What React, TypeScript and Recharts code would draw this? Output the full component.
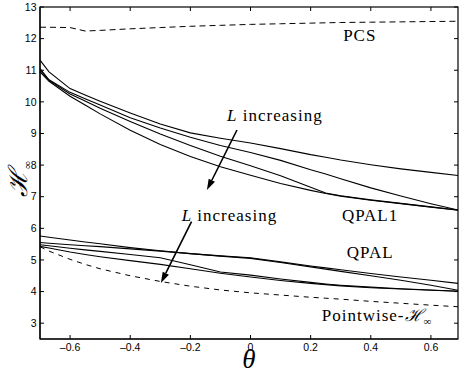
import React from 'react';
import {
  LineChart,
  Line,
  XAxis,
  YAxis,
  ReferenceLine,
  ReferenceDot,
  ReferenceArea,
} from 'recharts';

const theta = [-0.7, -0.67, -0.6, -0.55, -0.5, -0.4, -0.3, -0.2, -0.1, 0, 0.1, 0.2, 0.25, 0.3, 0.4, 0.5, 0.6, 0.69];

const pcs = [12.36, 12.36, 12.35, 12.24, 12.26, 12.31, 12.35, 12.39, 12.42, 12.45, 12.47, 12.49, 12.5, 12.51, 12.52, 12.53, 12.54, 12.55];
const pointwise = [5.42, 5.28, 5.02, 4.86, 4.72, 4.5, 4.32, 4.17, 4.05, 3.96, 3.89, 3.82, 3.79, 3.76, 3.69, 3.63, 3.57, 3.52];

// QPAL1, L increasing from top to bottom
const qpal1A = [11.32, 10.95, 10.42, 10.22, 10.02, 9.65, 9.3, 9.02, 8.85, 8.7, 8.52, 8.33, 8.25, 8.16, 8.01, 7.88, 7.77, 7.67];
const qpal1B = [11.05, 10.7, 10.3, 10.1, 9.9, 9.5, 9.17, 8.88, 8.62, 8.4, 8.15, 7.85, 7.72, 7.57, 7.28, 7.02, 6.78, 6.58];
const qpal1C = [11.0, 10.68, 10.25, 10.03, 9.8, 9.38, 8.98, 8.62, 8.28, 7.98, 7.66, 7.3, 7.12, 7.03, 6.9, 6.79, 6.68, 6.58];
const qpal1D = [10.95, 10.65, 10.18, 9.9, 9.62, 9.1, 8.65, 8.27, 7.95, 7.68, 7.42, 7.2, 7.1, 7.02, 6.89, 6.78, 6.67, 6.57];

// QPAL
const qpalE = [5.76, 5.72, 5.63, 5.57, 5.51, 5.39, 5.29, 5.2, 5.13, 5.07, 4.94, 4.81, 4.75, 4.69, 4.57, 4.46, 4.36, 4.26];
const qpalF = [5.55, 5.53, 5.48, 5.45, 5.42, 5.35, 5.28, 5.2, 5.12, 5.05, 4.92, 4.78, 4.71, 4.64, 4.5, 4.36, 4.2, 4.04];
const qpalG = [5.48, 5.45, 5.37, 5.32, 5.27, 5.17, 5.07, 4.85, 4.62, 4.52, 4.4, 4.29, 4.24, 4.2, 4.14, 4.09, 4.05, 4.01];
const qpalH = [5.43, 5.38, 5.25, 5.17, 5.1, 4.98, 4.86, 4.72, 4.58, 4.46, 4.35, 4.26, 4.22, 4.18, 4.12, 4.08, 4.04, 4.01];

const xTicks = [-0.6, -0.4, -0.2, 0, 0.2, 0.4, 0.6];
const yTicks = [3, 4, 5, 6, 7, 8, 9, 10, 11, 12, 13];

const X_MIN = -0.7;
const X_MAX = 0.69;
const Y_MIN = 2.5;
const Y_MAX = 13;

const solidKeys = ['qpal1A', 'qpal1B', 'qpal1C', 'qpal1D', 'qpalE', 'qpalF', 'qpalG', 'qpalH'];

const rows = theta.map((t, i) => ({
  theta: t,
  pcs: pcs[i],
  pointwise: pointwise[i],
  qpal1A: qpal1A[i],
  qpal1B: qpal1B[i],
  qpal1C: qpal1C[i],
  qpal1D: qpal1D[i],
  qpalE: qpalE[i],
  qpalF: qpalF[i],
  qpalG: qpalG[i],
  qpalH: qpalH[i],
}));

const serif = '"Liberation Serif", "Times New Roman", serif';
const tickFont = { fill: '#000', fontSize: 10.5, fontFamily: '"Liberation Sans", Arial, sans-serif' };
const frame = { stroke: '#000', strokeWidth: 1.2 };

const fmtX = (v: number) => (v === 0 ? '0' : v < 0 ? '\u2013' + Math.abs(v).toFixed(1) : v.toFixed(1));

function Arrow(props: any) {
  const { x1, y1, x2, y2 } = props;
  const ang = Math.atan2(y2 - y1, x2 - x1);
  const len = 11;
  const w = 3.5;
  const bx = x2 - len * Math.cos(ang);
  const by = y2 - len * Math.sin(ang);
  const px = -Math.sin(ang) * w;
  const py = Math.cos(ang) * w;
  return (
    <g>
      <line x1={x1} y1={y1} x2={bx} y2={by} stroke="#000" strokeWidth={1.6} />
      <polygon points={`${x2},${y2} ${bx + px},${by + py} ${bx - px},${by - py}`} fill="#000" />
    </g>
  );
}

function Box(props: any) {
  const { x, y, width, height } = props;
  return <rect x={x} y={y} width={width} height={height} fill="none" stroke="#000" strokeWidth={1.2} />;
}

// inward tick mark on the top / right frame, drawn from the frame point
function TopTick(props: any) {
  const { x1, y1 } = props;
  return <line x1={x1} y1={y1} x2={x1} y2={y1 + 4} stroke="#000" strokeWidth={1} />;
}
function RightTick(props: any) {
  const { x1, y1 } = props;
  return <line x1={x1} y1={y1} x2={x1 - 4} y2={y1} stroke="#000" strokeWidth={1} />;
}

function Note(text: React.ReactNode) {
  return (props: any) => (
    <text x={props.cx} y={props.cy} fontFamily={serif} fontSize={17} letterSpacing={1} fill="#000">
      {text}
    </text>
  );
}

const italicL = (
  <>
    <tspan fontStyle="italic">L</tspan> increasing
  </>
);

const hInf = (
  <>
    <tspan fontFamily='"DejaVu Serif", serif' fontStyle="italic">ℋ</tspan>
    <tspan fontSize={11} dy={4}>∞</tspan>
  </>
);

export default function App() {
  return (
    <div style={{ position: 'absolute', left: 0, top: 0, width: 459, height: 374, background: '#fff' }}>
      <LineChart width={459} height={374} data={rows} margin={{ top: 7, right: 1, bottom: 0, left: 0 }}>
        <XAxis
          dataKey="theta"
          type="number"
          domain={[X_MIN, X_MAX]}
          ticks={xTicks}
          interval={0}
          tickFormatter={fmtX}
          height={35}
          tickSize={-4}
          tickMargin={9}
          tick={tickFont}
          axisLine={frame}
          tickLine={{ stroke: '#000' }}
          label={{
            content: (p: any) => (
              <text
                x={p.viewBox.x + p.viewBox.width / 2}
                y={p.viewBox.y + 29}
                textAnchor="middle"
                fontFamily={serif}
                fontStyle="italic"
                fontSize={27}
                fill="#000"
              >
                θ
              </text>
            ),
          }}
        />
        <YAxis
          type="number"
          domain={[Y_MIN, Y_MAX]}
          ticks={yTicks}
          interval={0}
          width={40}
          tickSize={-4}
          tickMargin={7.5}
          tick={tickFont}
          axisLine={frame}
          tickLine={{ stroke: '#000' }}
          label={{
            content: (p: any) => (
              <text
                transform={`translate(${p.viewBox.x + 27}, ${p.viewBox.y + 190}) rotate(-90)`}
                fontFamily={serif}
                fontSize={26}
                fill="#000"
              >
                {hInf}
              </text>
            ),
          }}
        />

        {/* plot box with inward ticks on top and right */}
        <ReferenceArea x1={X_MIN} x2={X_MAX} y1={Y_MIN} y2={Y_MAX} shape={Box} ifOverflow="visible" />
        {xTicks.map((t) => (
          <ReferenceLine key={'tx' + t} segment={[{ x: t, y: Y_MAX }, { x: t, y: Y_MAX }]} shape={TopTick} ifOverflow="visible" />
        ))}
        {yTicks.map((t) => (
          <ReferenceLine key={'ty' + t} segment={[{ x: X_MAX, y: t }, { x: X_MAX, y: t }]} shape={RightTick} ifOverflow="visible" />
        ))}

        <Line dataKey="pcs" stroke="#000" strokeWidth={1} strokeDasharray="6 4" dot={false} isAnimationActive={false} />
        <Line dataKey="pointwise" stroke="#000" strokeWidth={1} strokeDasharray="5 5" dot={false} isAnimationActive={false} />
        {solidKeys.map((k) => (
          <Line key={k} dataKey={k} stroke="#000" strokeWidth={1.1} dot={false} isAnimationActive={false} />
        ))}

        <ReferenceLine segment={[{ x: -0.045, y: 9.11 }, { x: -0.145, y: 7.21 }]} shape={Arrow} />
        <ReferenceLine segment={[{ x: -0.196, y: 6.21 }, { x: -0.298, y: 4.27 }]} shape={Arrow} />

        <ReferenceDot x={0.308} y={11.91} r={0} shape={Note('PCS')} />
        <ReferenceDot x={-0.078} y={9.39} r={0} shape={Note(italicL)} />
        <ReferenceDot x={-0.229} y={6.22} r={0} shape={Note(italicL)} />
        <ReferenceDot x={0.304} y={6.22} r={0} shape={Note('QPAL1')} />
        <ReferenceDot x={0.32} y={5.06} r={0} shape={Note('QPAL')} />
        <ReferenceDot x={0.237} y={3.07} r={0} shape={Note(<>Pointwise-{hInf}</>)} />
      </LineChart>
    </div>
  );
}
